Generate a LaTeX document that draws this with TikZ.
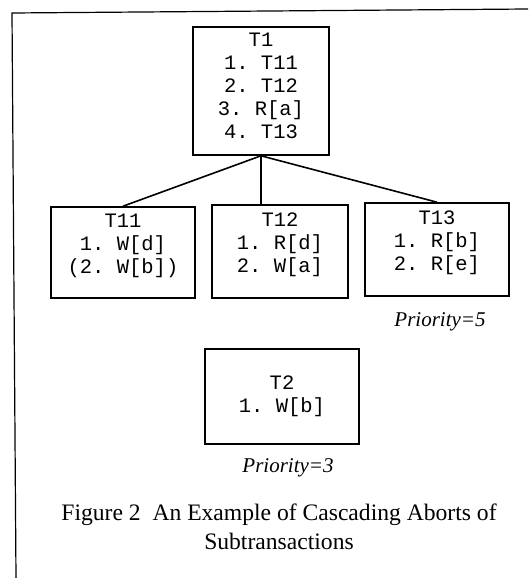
\documentclass[tikz,border=0pt]{standalone}
\usepackage{fontspec}
\setmainfont{Liberation Serif}
\setmonofont{Liberation Mono}
\usetikzlibrary{positioning}

\tikzset{
  txbox/.style={draw, line width=1.6pt, inner sep=0pt},
  txlines/.style={align=center, inner sep=0pt, font=\ttfamily\fontsize{20.5}{23}\selectfont},
  link/.style={line width=1.6pt},
  prio/.style={font=\itshape\fontsize{21}{24}\selectfont},
  caption/.style={align=center, font=\fontsize{23.6}{29}\selectfont},
}

\begin{document}
\begin{tikzpicture}[x=1pt, y=-1pt]
	\useasboundingbox (0,0) rectangle (528,578);
	\draw[line width=1.2pt] (16,578) -- (12,13) -- (528,9);
	% parent transaction
	\node[txbox, minimum width=136pt, minimum height=128pt] (t1) at (261,91) {};
	\node[txlines, below=7pt of t1.north] (t1text) {T1\\1. T11\\2. T12\\3. R[a]\\4. T13};
	% subtransactions
	\node[txbox, minimum width=144pt, minimum height=91pt] (t11) at (123,252.5) {};
	\node[txlines, below=8pt of t11.north] (t11text) {T11\\1. W[d]\\(2. W[b])};
	\node[txbox, minimum width=136pt, minimum height=93pt] (t12) at (280,251.5) {};
	\node[txlines, below=8pt of t12.north] (t12text) {T12\\1. R[d]\\2. W[a]};
	\node[txbox, minimum width=144pt, minimum height=93pt] (t13) at (437,249.5) {};
	\node[txlines, below=8pt of t13.north] (t13text) {T13\\1. R[b]\\2. R[e]};
	\draw[link] (t1.south) -- (t11.north);
	\draw[link] (t1.south) -- (t1.south |- t12.north);
	\draw[link] (t1.south) -- (t13.north);
	\node[prio] (prio5) at (440,322) {Priority=5};
	% second transaction
	\node[txbox, txlines, minimum width=154pt, minimum height=95pt] (t2) at (282,396.5) {T2\\1. W[b]};
	\node[prio] (prio3) at (288,468) {Priority=3};
	\node[caption] (cap) at (279,527) {Figure 2\ \ An Example of Cascading Aborts of\\Subtransactions};
\end{tikzpicture}
\end{document}
